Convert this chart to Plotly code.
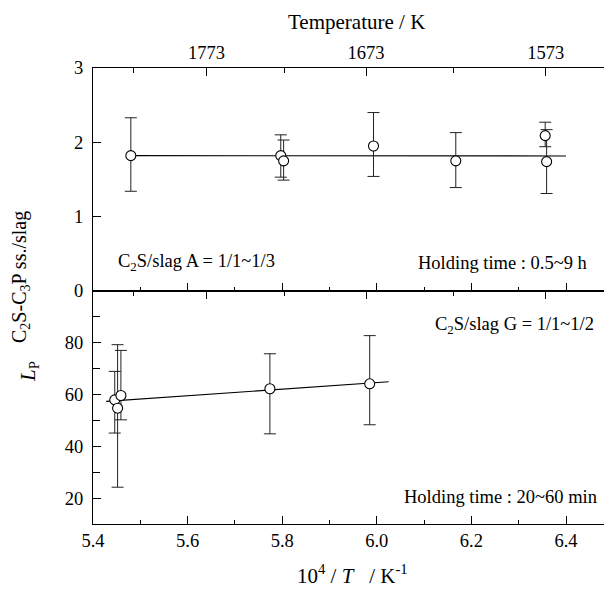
import plotly.graph_objects as go

# ---- data ----
top_x = [5.48, 5.797, 5.803, 5.993, 6.167, 6.356, 6.359]
top_y = [1.82, 1.82, 1.75, 1.95, 1.75, 2.09, 1.74]
top_err_plus = [0.51, 0.28, 0.28, 0.45, 0.38, 0.18, 0.43]
top_err_minus = [0.48, 0.29, 0.26, 0.41, 0.36, 0.15, 0.43]
top_fit_x = [5.48, 6.40]
top_fit_y = [1.82, 1.815]

bot_x = [5.446, 5.452, 5.459, 5.774, 5.985]
bot_y = [57.9, 54.7, 59.6, 62.2, 64.1]
bot_err_plus = [11.0, 24.5, 17.4, 13.5, 18.6]
bot_err_minus = [12.8, 30.5, 9.4, 17.4, 15.8]
bot_fit_x = [5.428, 6.025]
bot_fit_y = [57.3, 64.9]

temp_major = [1773, 1673, 1573]
temp_minor = [1823, 1723, 1623]
x_ticks = [5.4, 5.6, 5.8, 6.0, 6.2, 6.4]
x_ticklabels = ["5.4", "5.6", "5.8", "6.0", "6.2", "6.4"]
top_yticks = [0, 1, 2, 3]
bot_yticks = [20, 40, 60, 80]
bot_yminor = [30, 50, 70, 90]

# ---- geometry (page body has an 8px margin) ----
OFF = 8
W, H = 612 - OFF, 594 - OFF
L, R = 93 - OFF, 0
T = 68 - OFF
B = H - (524 - OFF)
PW, PH = W - L - R, H - T - B
XR = [5.4, 5.4 + PW / 473.0]
split = (524 - 290.8) / PH
FONT = "Liberation Serif, Times New Roman, serif"


def px(xp, yp):
    """reference-picture pixel -> paper coords"""
    return (xp - OFF - L) / PW, (H - B - (yp - OFF)) / PH


fig = go.Figure()

marker = dict(symbol="circle", size=10, color="white", line=dict(color="black", width=1.1))

fig.add_trace(go.Scatter(x=top_fit_x, y=top_fit_y, mode="lines", line=dict(color="black", width=1.2),
                         xaxis="x2", yaxis="y", showlegend=False, hoverinfo="skip"))
fig.add_trace(go.Scatter(x=top_x, y=top_y, mode="markers", marker=marker,
                         error_y=dict(type="data", symmetric=False, array=top_err_plus,
                                      arrayminus=top_err_minus, color="#222", thickness=1, width=6),
                         xaxis="x2", yaxis="y", showlegend=False))
fig.add_trace(go.Scatter(x=bot_fit_x, y=bot_fit_y, mode="lines", line=dict(color="black", width=1.2),
                         xaxis="x", yaxis="y2", showlegend=False, hoverinfo="skip"))
fig.add_trace(go.Scatter(x=bot_x, y=bot_y, mode="markers", marker=marker,
                         error_y=dict(type="data", symmetric=False, array=bot_err_plus,
                                      arrayminus=bot_err_minus, color="#222", thickness=1, width=6),
                         xaxis="x", yaxis="y2", showlegend=False))
for xa, ya in [("x3", "y"), ("x4", "y2"), ("x2", "y3"), ("x", "y4")]:
    fig.add_trace(go.Scatter(x=[None], y=[None], xaxis=xa, yaxis=ya, showlegend=False, hoverinfo="skip"))

tfont = dict(family=FONT, size=18.5, color="black")
temp_vals = [1e4 / t for t in temp_major]
temp_minor_vals = [1e4 / t for t in temp_minor]

common_x = dict(range=XR, showgrid=False, zeroline=False, showline=True, linecolor="black",
                linewidth=1.3, ticks="inside", tickcolor="black", tickfont=tfont)

fig.update_layout(
    width=W, height=H, margin=dict(l=L, r=R, t=T, b=B, autoexpand=False),
    paper_bgcolor="white", plot_bgcolor="white",
    font=dict(family=FONT, color="black"),
    xaxis=dict(**common_x, anchor="y2", domain=[0, 1], tickmode="array", tickvals=x_ticks,
               ticktext=x_ticklabels, ticklen=8, ticklabelstandoff=0,
               minor=dict(ticks="inside", dtick=0.1, tick0=5.4, ticklen=4, tickcolor="black")),
    xaxis2=dict(**common_x, anchor="y", domain=[0, 1], tickmode="array", tickvals=x_ticks,
                showticklabels=False, ticklen=8,
                minor=dict(ticks="inside", dtick=0.1, tick0=5.4, ticklen=4, tickcolor="black")),
    xaxis3=dict(**common_x, anchor="y", overlaying="x2", side="top", tickmode="array",
                tickvals=temp_vals, ticktext=[str(t) for t in temp_major], ticklen=8,
                ticklabelstandoff=0,
                minor=dict(ticks="inside", tickvals=temp_minor_vals, ticklen=5, tickcolor="black")),
    xaxis4=dict(**common_x, anchor="y2", overlaying="x", side="top", tickmode="array",
                tickvals=temp_vals, showticklabels=False, ticklen=8,
                minor=dict(ticks="inside", tickvals=temp_minor_vals, ticklen=5, tickcolor="black")),
    yaxis=dict(domain=[split, 1], range=[0, 3], anchor="x2", showgrid=False, zeroline=False,
               showline=True, linecolor="black", linewidth=1.3, ticks="inside", ticklen=8,
               tickcolor="black", tickmode="array", tickvals=top_yticks, tickfont=tfont,
               ticklabelstandoff=5),
    yaxis2=dict(domain=[0, split], range=[10, 100], anchor="x", showgrid=False, zeroline=False,
                showline=True, linecolor="black", linewidth=1.3, ticks="inside", ticklen=8,
                tickcolor="black", tickmode="array", tickvals=bot_yticks, tickfont=tfont,
                ticklabelstandoff=5,
                minor=dict(ticks="inside", tickvals=bot_yminor, ticklen=7, tickcolor="black")),
    yaxis3=dict(overlaying="y", side="right", anchor="x2", range=[0, 3], showgrid=False,
                zeroline=False, showline=False, ticks="inside", ticklen=8, tickcolor="black",
                tickmode="array", tickvals=[1, 2], showticklabels=False),
    yaxis4=dict(overlaying="y2", side="right", anchor="x", range=[10, 100], showgrid=False,
                zeroline=False, showline=False, ticks="inside", ticklen=5, tickcolor="black",
                tickmode="array", tickvals=[20, 30, 40, 50, 60, 70, 80, 90], showticklabels=False),
)

ann = []


def add_text(text, xp, yp, size=18.5, xanchor="left", angle=0):
    x, y = px(xp, yp)
    ann.append(dict(text=text, x=x, y=y, xref="paper", yref="paper", xanchor=xanchor,
                    yanchor="middle", showarrow=False, textangle=angle,
                    font=dict(family=FONT, size=size, color="black")))


add_text("Temperature / K", 356, 22, size=21, xanchor="center")
add_text("10<sup>4</sup> / <i>T</i>   / K<sup>-1</sup>", 352, 574, size=21, xanchor="center")
add_text("C<sub>2</sub>S/slag A = 1/1~1/3", 116, 262)
add_text("Holding time : 0.5~9 h", 416, 263)
add_text("C<sub>2</sub>S/slag G = 1/1~1/2", 433, 325)
add_text("Holding time : 20~60 min", 402, 497)
add_text("<i>L</i><sub>P</sub>", 29, 372, size=21, xanchor="center", angle=-90)
add_text("C<sub>2</sub>S-C<sub>3</sub>P ss./slag", 20, 277, size=20, xanchor="center", angle=-90)

fig.update_layout(annotations=ann)
fig.write_html("out.html")
